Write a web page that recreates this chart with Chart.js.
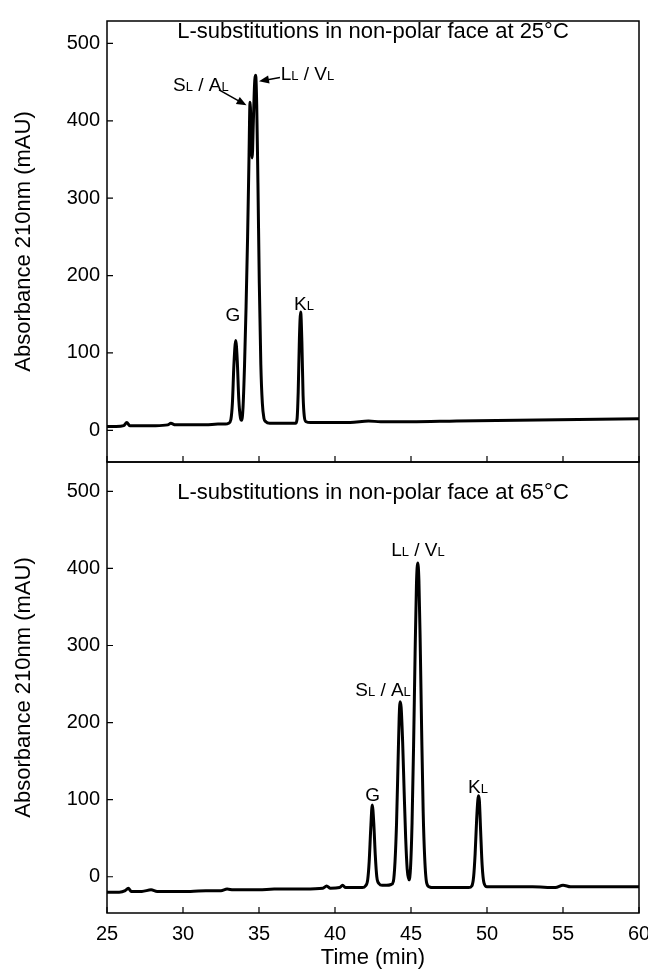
<!DOCTYPE html>
<html>
<head>
<meta charset="utf-8">
<script src="https://cdn.jsdelivr.net/npm/chart.js@4.4.1/dist/chart.umd.min.js"></script>
<style>
  body { margin: 0; background: #fff; width: 648px; height: 972px; position: relative; overflow: hidden; }
  canvas { position: absolute; left: 0; }
  #run25 { top: 0; }
  #run65 { top: 456px; }
</style>
</head>
<body>
<canvas id="run25" width="648" height="464"></canvas>
<canvas id="run65" width="648" height="516"></canvas>
<script>
const FONT = "'Liberation Sans', Arial, Helvetica, sans-serif";

// 25 °C run (time in min, absorbance in mAU)
const time25 = [25, 25.6, 26.1, 26.3, 26.5, 27.2, 28.2, 29.0, 29.2, 29.5, 30.5, 31.5, 32.3, 32.8, 33.0,
  33.15, 33.25, 33.35, 33.47, 33.57, 33.67, 33.78, 33.86, 33.95, 34.05, 34.15, 34.25, 34.34, 34.41, 34.48,
  34.55, 34.63, 34.71, 34.78, 34.85, 34.93, 35.02, 35.12, 35.22, 35.32, 35.45, 35.7, 36.3, 37.0, 37.4,
  37.5, 37.58, 37.66, 37.74, 37.82, 37.9, 37.98, 38.1, 38.4, 39.5, 41, 42.2, 43, 45, 48, 52, 56, 60];
const abs25 = [5, 5, 6, 10, 6, 6, 6, 7, 9, 7, 7, 7, 8, 8, 9,
  14, 35, 85, 116, 90, 40, 16, 13, 30, 85, 160, 250, 350, 424, 390,
  352, 400, 448, 459, 420, 320, 190, 85, 35, 16, 11, 9, 9, 9, 9,
  14, 50, 120, 153, 115, 45, 18, 11, 10, 10, 10, 12, 11, 11, 12, 13, 14, 15];

// 65 °C run
const time65 = [25, 25.8, 26.2, 26.4, 26.6, 27.3, 27.9, 28.3, 29.5, 30.5, 31.5, 32.5, 32.9, 33.3, 34,
  35, 36, 37, 38, 39.2, 39.45, 39.7, 40.3, 40.5, 40.7, 41.2, 41.8, 42.0, 42.15, 42.25,
  42.35, 42.45, 42.55, 42.65, 42.75, 42.9, 43.1, 43.4, 43.7, 43.84, 43.95, 44.05, 44.15, 44.22, 44.28,
  44.35, 44.45, 44.55, 44.65, 44.75, 44.87, 44.97, 45.07, 45.17, 45.27, 45.36, 45.44, 45.52, 45.6, 45.7,
  45.8, 45.9, 46.03, 46.2, 46.5, 47, 48, 48.8, 49.0, 49.12, 49.22, 49.32, 49.4, 49.45, 49.5,
  49.58, 49.68, 49.8, 50.0, 51, 53, 54.5, 55, 55.5, 57, 60];
const abs65 = [-20, -20, -18, -15, -19, -19, -17, -19, -19, -19, -18, -18, -16, -17, -17,
  -17, -16, -16, -16, -15, -12, -15, -14, -11, -14, -14, -14, -12, -4, 20,
  62, 93, 70, 28, 0, -9, -11, -11, -10, -6, 20, 70, 150, 205, 227,
  220, 175, 110, 50, 10, -4, 12, 70, 170, 290, 380, 407, 385, 310, 190,
  85, 25, -8, -13, -14, -14, -14, -14, -12, 0, 30, 75, 100, 105, 98,
  60, 15, -8, -13, -13, -13, -14, -11, -13, -13, -13];

const xTicks = [25, 30, 35, 40, 45, 50, 55, 60];
const yTicks = [0, 100, 200, 300, 400, 500];

const title25 = 'L-substitutions in non-polar face at 25°C';
const title65 = 'L-substitutions in non-polar face at 65°C';

// label text pieces: [text, isSubscript]
const SA = [['S', 0], ['L', 1], [' / ', 0], ['A', 0], ['L', 1]];
const LV = [['L', 0], ['L', 1], [' / ', 0], ['V', 0], ['L', 1]];
const GL = [['G', 0]];
const KL = [['K', 0], ['L', 1]];

// [time, absorbance, text]
const labels25 = [[31.18, 447, SA], [38.19, 462, LV], [33.29, 150, GL], [37.96, 165, KL]];
// [from time, from abs, to time, to abs]
const arrows25 = [[32.37, 440, 34.18, 420], [36.38, 456, 35.0, 451]];
const labels65 = [[43.16, 243, SA], [45.46, 425, LV], [42.47, 107, GL], [49.41, 118, KL]];

function drawParts(ctx, parts, cx, cy) {
  const big = '19px ' + FONT, small = '13px ' + FONT;
  let w = 0;
  parts.forEach(([s, sub]) => { ctx.font = sub ? small : big; w += ctx.measureText(s).width; });
  let px = cx - w / 2;
  ctx.textAlign = 'left';
  ctx.textBaseline = 'alphabetic';
  parts.forEach(([s, sub]) => {
    ctx.font = sub ? small : big;
    ctx.fillText(s, px, cy + 7);
    px += ctx.measureText(s).width;
  });
}

function drawArrow(ctx, x0, y0, x1, y1) {
  const ang = Math.atan2(y1 - y0, x1 - x0);
  ctx.beginPath();
  ctx.moveTo(x0, y0);
  ctx.lineTo(x1 - 6 * Math.cos(ang), y1 - 6 * Math.sin(ang));
  ctx.lineWidth = 1.5;
  ctx.stroke();
  ctx.beginPath();
  ctx.moveTo(x1, y1);
  ctx.lineTo(x1 - 10 * Math.cos(ang) + 4 * Math.sin(ang), y1 - 10 * Math.sin(ang) - 4 * Math.cos(ang));
  ctx.lineTo(x1 - 10 * Math.cos(ang) - 4 * Math.sin(ang), y1 - 10 * Math.sin(ang) + 4 * Math.cos(ang));
  ctx.closePath();
  ctx.fill();
}

// frame, inward ticks, panel title and peak labels
function decor(title, titleOffset, labels, arrows) {
  return {
    id: 'decor',
    afterDatasetsDraw(chart) {
      const { ctx, chartArea: a, scales: { x, y } } = chart;
      ctx.save();
      ctx.strokeStyle = '#000';
      ctx.fillStyle = '#000';
      ctx.lineWidth = 1.5;
      ctx.strokeRect(a.left, a.top, a.right - a.left, a.bottom - a.top);
      ctx.beginPath();
      yTicks.forEach(v => {
        const py = y.getPixelForValue(v);
        ctx.moveTo(a.left, py);
        ctx.lineTo(a.left + 6, py);
      });
      xTicks.forEach(t => {
        const px = x.getPixelForValue(t);
        ctx.moveTo(px, a.bottom);
        ctx.lineTo(px, a.bottom - 6);
      });
      ctx.lineWidth = 1.2;
      ctx.stroke();

      ctx.font = '22px ' + FONT;
      ctx.textAlign = 'center';
      ctx.textBaseline = 'middle';
      ctx.fillText(title, (a.left + a.right) / 2, a.top + titleOffset);

      labels.forEach(([t, v, parts]) => drawParts(ctx, parts, x.getPixelForValue(t), y.getPixelForValue(v)));
      arrows.forEach(([t0, v0, t1, v1]) => drawArrow(ctx,
        x.getPixelForValue(t0), y.getPixelForValue(v0), x.getPixelForValue(t1), y.getPixelForValue(v1)));
      ctx.restore();
    }
  };
}

function noPad(s) {
  s.paddingTop = 0;
  s.paddingBottom = 0;
  s.paddingLeft = 0;
  s.paddingRight = 0;
}

function makeChart(id, times, values, yMin, yMax, xHeight, pad, plugin) {
  return new Chart(document.getElementById(id), {
    type: 'line',
    data: {
      datasets: [{
        data: times.map((t, i) => ({ x: t, y: values[i] })),
        borderColor: '#000',
        borderWidth: 3,
        pointRadius: 0,
        cubicInterpolationMode: 'monotone',
        fill: false
      }]
    },
    options: {
      responsive: false,
      animation: false,
      devicePixelRatio: 1,
      layout: { padding: pad },
      plugins: { legend: { display: false }, tooltip: { enabled: false } },
      scales: {
        x: {
          type: 'linear',
          min: 25,
          max: 60,
          display: xHeight > 0,
          afterBuildTicks: s => { s.ticks = xTicks.map(v => ({ value: v })); },
          afterFit: s => { s.height = xHeight; noPad(s); },
          grid: { display: false, drawTicks: false },
          border: { display: false },
          ticks: { color: '#000', font: { family: FONT, size: 20 }, padding: 9, maxRotation: 0, autoSkip: false },
          title: { display: true, text: 'Time (min)', color: '#000', font: { family: FONT, size: 22 }, padding: { top: 0, bottom: 1 } }
        },
        y: {
          min: yMin,
          max: yMax,
          afterBuildTicks: s => { s.ticks = yTicks.map(v => ({ value: v })); },
          afterFit: s => { s.width = 107; noPad(s); },
          grid: { display: false, drawTicks: false },
          border: { display: false },
          ticks: { color: '#000', font: { family: FONT, size: 20 }, padding: 7 },
          title: { display: true, text: 'Absorbance 210nm (mAU)', color: '#000', font: { family: FONT, size: 22 }, padding: { top: 11, bottom: 0 } }
        }
      }
    },
    plugins: [plugin]
  });
}

makeChart('run25', time25, abs25, -41, 529, 0, { top: 21, right: 9, bottom: 2, left: 0 },
  decor(title25, 11, labels25, arrows25));
makeChart('run65', time65, abs65, -47, 538, 59, { top: 6, right: 9, bottom: 0, left: 0 },
  decor(title65, 31, labels65, []));
</script>
</body>
</html>
